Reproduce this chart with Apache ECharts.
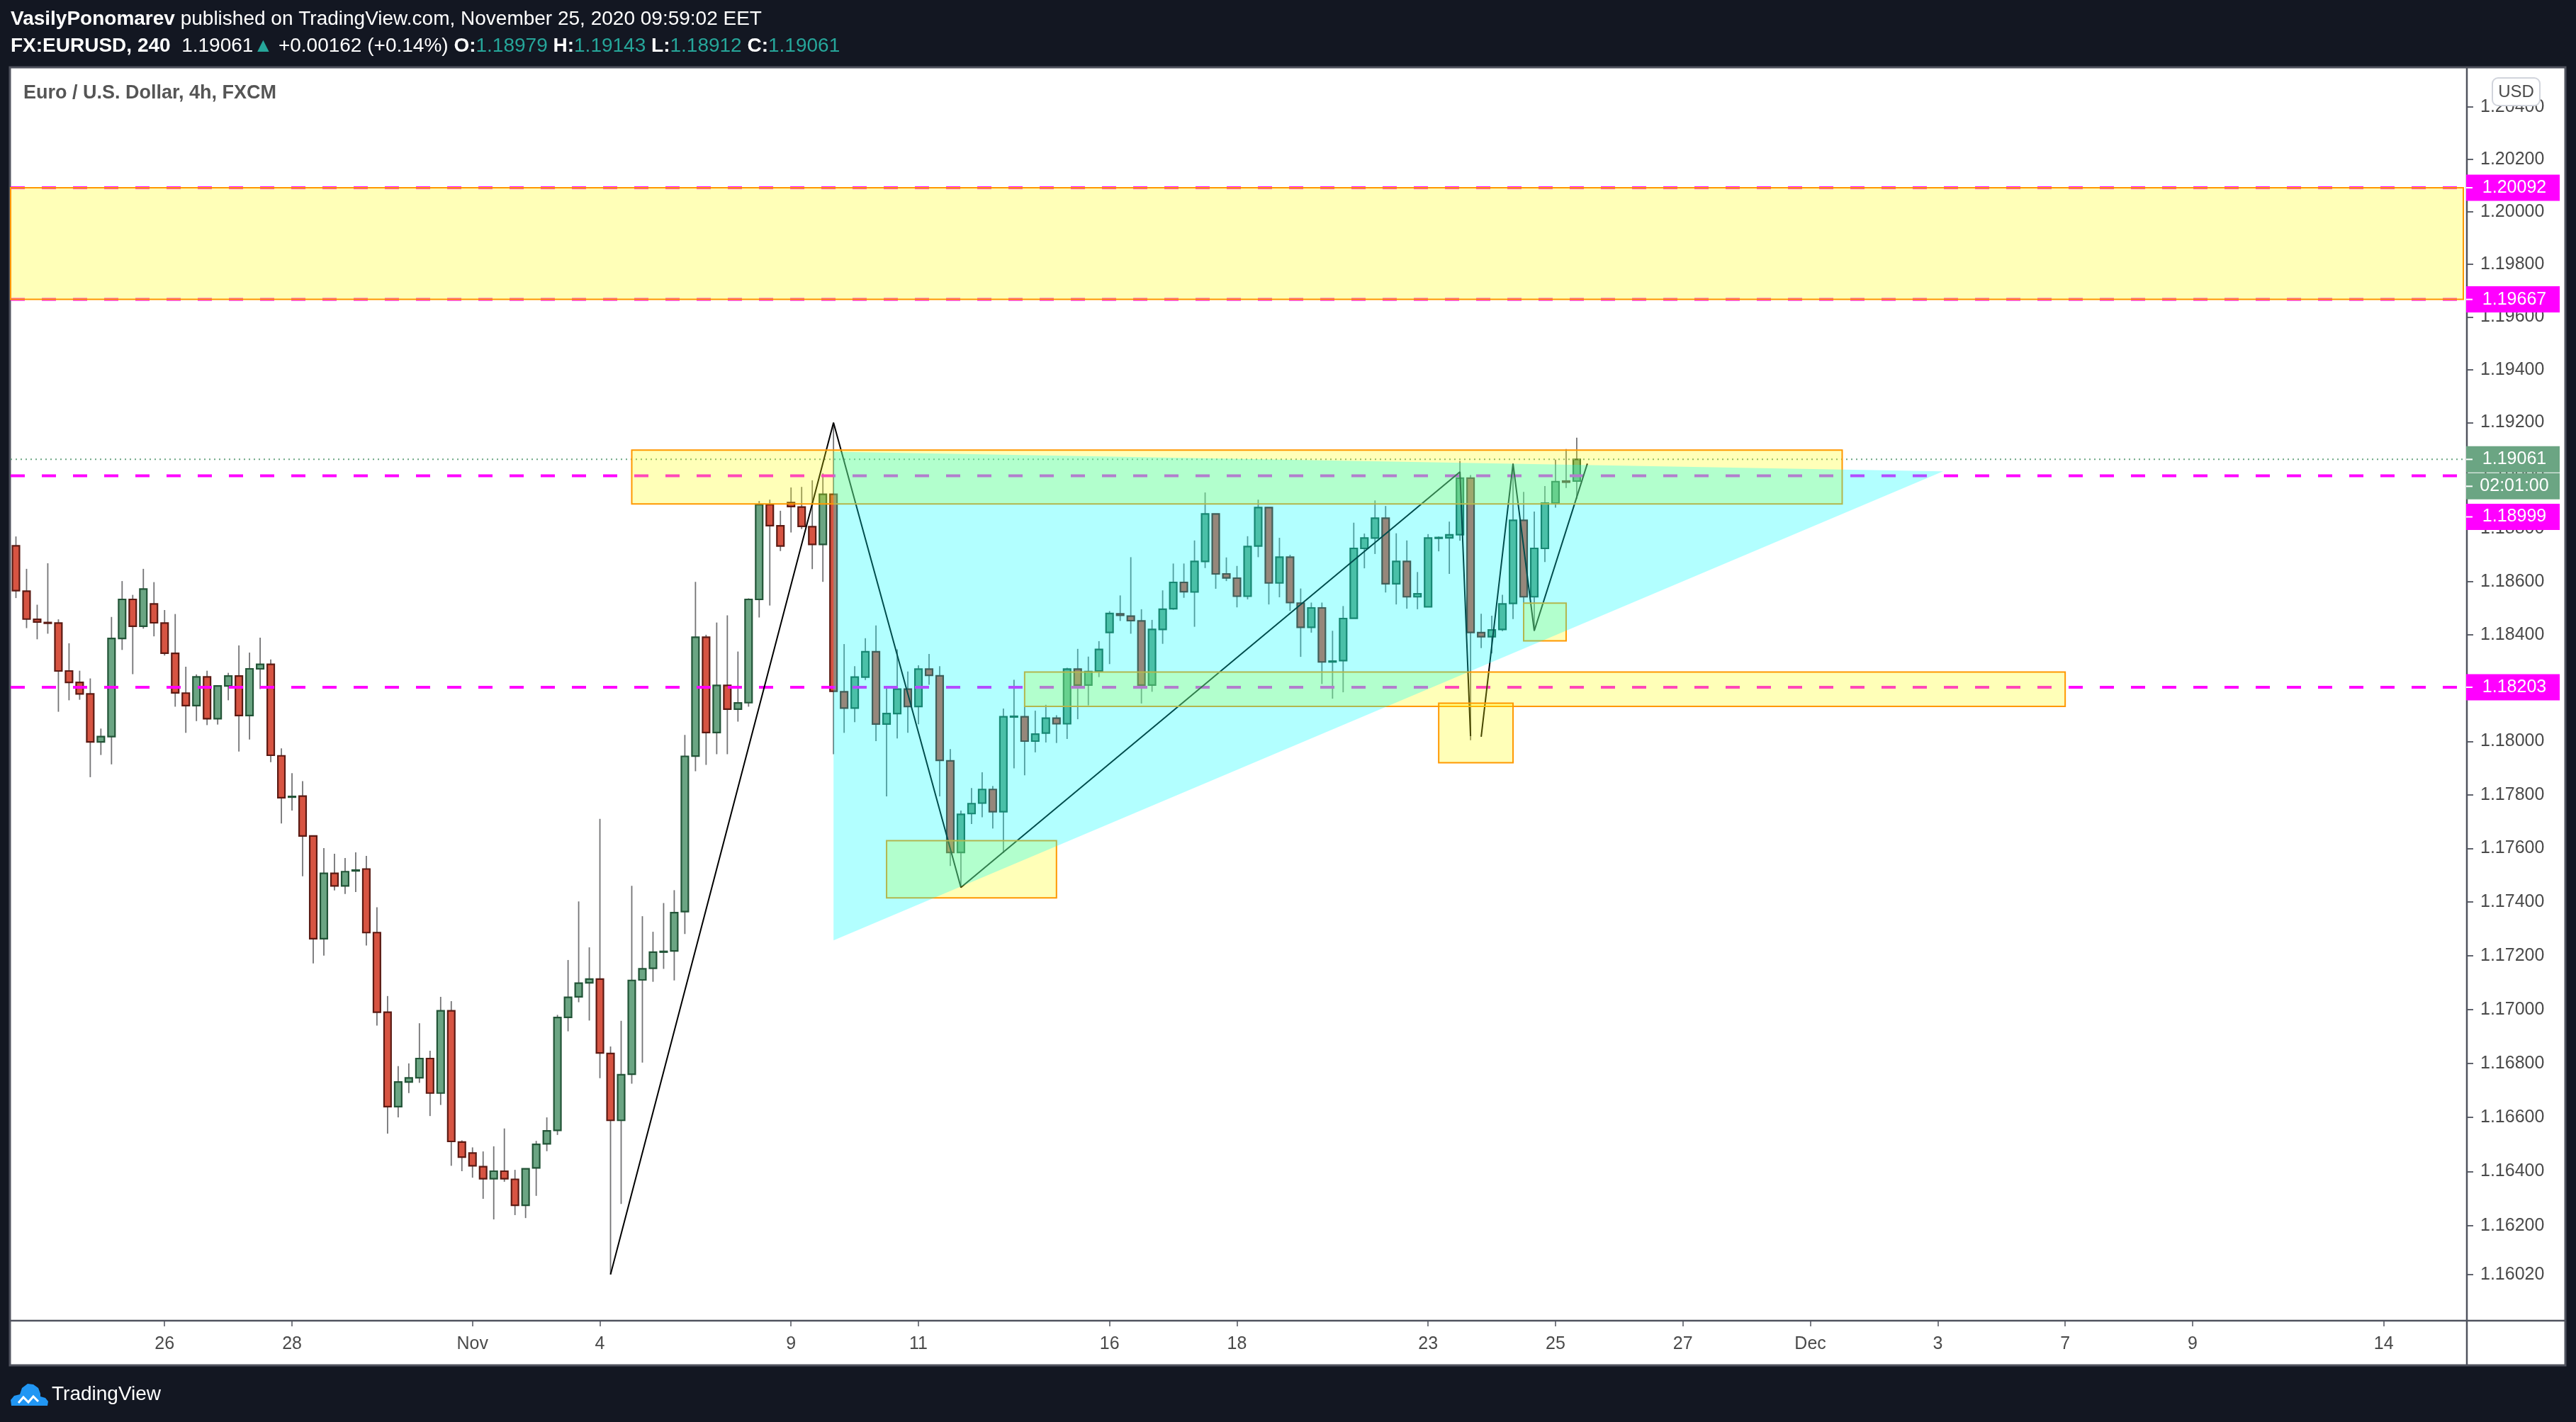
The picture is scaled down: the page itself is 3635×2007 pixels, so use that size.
<!DOCTYPE html>
<html>
<head>
<meta charset="utf-8">
<title>EURUSD 4h</title>
<script src="https://cdn.jsdelivr.net/npm/echarts@6/dist/echarts.min.js"></script>
<style>
  html, body { margin: 0; padding: 0; background: #131722; }
  #chart { width: 3635px; height: 2007px; }
</style>
</head>
<body>
<div id="chart"></div>
<script>
// time axis: 4h bar slots (last ones are empty future space)
const slotCount = 231;
const tickIndex = [14, 26, 43, 55, 73, 85, 103, 115, 133, 145, 157, 169, 181, 193, 205, 223];
const tickText = ['26', '28', 'Nov', '4', '9', '11', '16', '18', '23', '25', '27', 'Dec', '3', '7', '9', '14'];

// candles, one value per bar
const opens = [
  1.18735, 1.18564, 1.18458, 1.18446, 1.18444, 1.18264, 1.18221, 1.18178, 1.17998, 1.18018,
  1.18386, 1.18533, 1.18432, 1.18516, 1.18444, 1.18330, 1.18181, 1.18134, 1.18242, 1.18085,
  1.18208, 1.18245, 1.18097, 1.18272, 1.18289, 1.17946, 1.17792, 1.17795, 1.17646, 1.17263,
  1.17507, 1.17460, 1.17516, 1.17523, 1.17286, 1.16990, 1.16640, 1.16731, 1.16747, 1.16818,
  1.16690, 1.16995, 1.16509, 1.16468, 1.16418, 1.16373, 1.16401, 1.16371, 1.16275, 1.16413,
  1.16502, 1.16552, 1.16971, 1.17047, 1.17099, 1.17113, 1.16837, 1.16589, 1.16760, 1.17110,
  1.17153, 1.17214, 1.17218, 1.17364, 1.17945, 1.18391, 1.18033, 1.18210, 1.18121, 1.18145,
  1.18533, 1.18890, 1.18810, 1.18898, 1.18881, 1.18807, 1.18740, 1.18929, 1.18186, 1.18125,
  1.18241, 1.18336, 1.18065, 1.18104, 1.18196, 1.18131, 1.18271, 1.18246, 1.17927, 1.17585,
  1.17730, 1.17769, 1.17820, 1.17737, 1.18092, 1.18092, 1.18001, 1.18031, 1.18087, 1.18066,
  1.18271, 1.18211, 1.18264, 1.18409, 1.18479, 1.18470, 1.18452, 1.18211, 1.18420, 1.18498,
  1.18597, 1.18561, 1.18676, 1.18855, 1.18629, 1.18613, 1.18545, 1.18734, 1.18879, 1.18595,
  1.18692, 1.18519, 1.18428, 1.18501, 1.18298, 1.18303, 1.18462, 1.18725, 1.18764, 1.18839,
  1.18592, 1.18676, 1.18543, 1.18505, 1.18764, 1.18765, 1.18777, 1.18990, 1.18408, 1.18393,
  1.18420, 1.18518, 1.18831, 1.18543, 1.18725, 1.18896, 1.18979, 1.18979
];
const highs = [
  1.18770, 1.18648, 1.18513, 1.18669, 1.18458, 1.18368, 1.18265, 1.18236, 1.18048, 1.18467,
  1.18602, 1.18550, 1.18648, 1.18598, 1.18493, 1.18478, 1.18280, 1.18251, 1.18265, 1.18211,
  1.18257, 1.18360, 1.18333, 1.18389, 1.18307, 1.17974, 1.17881, 1.17851, 1.17646, 1.17601,
  1.17580, 1.17564, 1.17585, 1.17572, 1.17380, 1.17050, 1.16790, 1.16800, 1.16949, 1.16847,
  1.17047, 1.17031, 1.16515, 1.16489, 1.16474, 1.16493, 1.16559, 1.16406, 1.16410, 1.16513,
  1.16600, 1.16980, 1.17184, 1.17402, 1.17231, 1.17710, 1.16863, 1.16958, 1.17460, 1.17347,
  1.17289, 1.17396, 1.17444, 1.18024, 1.18599, 1.18400, 1.18446, 1.18473, 1.18337, 1.18537,
  1.18904, 1.18909, 1.18867, 1.18955, 1.18957, 1.18982, 1.19008, 1.19200, 1.18365, 1.18282,
  1.18387, 1.18435, 1.18203, 1.18345, 1.18262, 1.18285, 1.18328, 1.18282, 1.17971, 1.17741,
  1.17825, 1.17884, 1.17833, 1.18123, 1.18231, 1.18131, 1.18115, 1.18137, 1.18098, 1.18276,
  1.18347, 1.18318, 1.18376, 1.18489, 1.18548, 1.18692, 1.18496, 1.18456, 1.18567, 1.18668,
  1.18668, 1.18755, 1.18936, 1.18855, 1.18691, 1.18659, 1.18771, 1.18909, 1.18879, 1.18765,
  1.18701, 1.18574, 1.18521, 1.18521, 1.18415, 1.18508, 1.18822, 1.18781, 1.18906, 1.18885,
  1.18782, 1.18755, 1.18636, 1.18779, 1.18770, 1.18826, 1.19055, 1.19002, 1.18479, 1.18472,
  1.18550, 1.19040, 1.18938, 1.18864, 1.18960, 1.19060, 1.19100, 1.19143
];
const lows = [
  1.18538, 1.18425, 1.18383, 1.18404, 1.18111, 1.18154, 1.18156, 1.17866, 1.17949, 1.17914,
  1.18343, 1.18252, 1.18423, 1.18394, 1.18322, 1.18130, 1.18032, 1.18076, 1.18061, 1.18063,
  1.18154, 1.17962, 1.18007, 1.18196, 1.17922, 1.17693, 1.17741, 1.17496, 1.17171, 1.17200,
  1.17443, 1.17430, 1.17437, 1.17238, 1.16940, 1.16540, 1.16600, 1.16690, 1.16728, 1.16605,
  1.16646, 1.16421, 1.16401, 1.16377, 1.16299, 1.16223, 1.16362, 1.16239, 1.16228, 1.16310,
  1.16475, 1.16535, 1.16919, 1.17027, 1.16959, 1.16745, 1.16020, 1.16280, 1.16725, 1.16803,
  1.17103, 1.17151, 1.17108, 1.17281, 1.17888, 1.17912, 1.17952, 1.17952, 1.18074, 1.18130,
  1.18465, 1.18510, 1.18715, 1.18785, 1.18798, 1.18647, 1.18599, 1.17952, 1.18032, 1.18072,
  1.18230, 1.18001, 1.17794, 1.18011, 1.18032, 1.18064, 1.18212, 1.17794, 1.17534, 1.17454,
  1.17691, 1.17716, 1.17674, 1.17583, 1.17899, 1.17873, 1.17959, 1.17996, 1.17994, 1.18009,
  1.18083, 1.18135, 1.18241, 1.18290, 1.18452, 1.18404, 1.18142, 1.18186, 1.18366, 1.18494,
  1.18539, 1.18430, 1.18651, 1.18573, 1.18602, 1.18503, 1.18533, 1.18692, 1.18514, 1.18541,
  1.18490, 1.18317, 1.18408, 1.18215, 1.18160, 1.18184, 1.18462, 1.18650, 1.18704, 1.18559,
  1.18514, 1.18498, 1.18496, 1.18505, 1.18714, 1.18629, 1.18754, 1.18004, 1.18350, 1.18330,
  1.18414, 1.18459, 1.18516, 1.18415, 1.18674, 1.18879, 1.18953, 1.18912
];
const closes = [
  1.18566, 1.18459, 1.18448, 1.18444, 1.18264, 1.18221, 1.18178, 1.17998, 1.18018, 1.18386,
  1.18533, 1.18432, 1.18572, 1.18445, 1.18331, 1.18182, 1.18134, 1.18242, 1.18085, 1.18208,
  1.18245, 1.18097, 1.18272, 1.18289, 1.17948, 1.17789, 1.17794, 1.17646, 1.17263, 1.17507,
  1.17460, 1.17513, 1.17519, 1.17286, 1.16990, 1.16640, 1.16731, 1.16746, 1.16818, 1.16690,
  1.16995, 1.16511, 1.16453, 1.16421, 1.16373, 1.16401, 1.16373, 1.16275, 1.16410, 1.16500,
  1.16550, 1.16970, 1.17045, 1.17098, 1.17113, 1.16839, 1.16589, 1.16758, 1.17108, 1.17151,
  1.17213, 1.17216, 1.17360, 1.17944, 1.18391, 1.18033, 1.18210, 1.18121, 1.18144, 1.18533,
  1.18890, 1.18811, 1.18734, 1.18883, 1.18808, 1.18740, 1.18929, 1.18188, 1.18125, 1.18241,
  1.18336, 1.18065, 1.18104, 1.18196, 1.18131, 1.18271, 1.18248, 1.17929, 1.17585, 1.17727,
  1.17767, 1.17820, 1.17737, 1.18092, 1.18094, 1.18001, 1.18027, 1.18087, 1.18066, 1.18271,
  1.18211, 1.18262, 1.18345, 1.18480, 1.18473, 1.18453, 1.18211, 1.18420, 1.18496, 1.18597,
  1.18562, 1.18676, 1.18855, 1.18629, 1.18614, 1.18545, 1.18732, 1.18879, 1.18595, 1.18692,
  1.18521, 1.18428, 1.18501, 1.18298, 1.18301, 1.18461, 1.18725, 1.18764, 1.18839, 1.18592,
  1.18676, 1.18543, 1.18554, 1.18764, 1.18766, 1.18776, 1.18990, 1.18409, 1.18393, 1.18418,
  1.18516, 1.18831, 1.18543, 1.18725, 1.18896, 1.18977, 1.18975, 1.19061
];

// price scale labels
const priceTicks = [1.1602, 1.162, 1.164, 1.166, 1.168, 1.17, 1.172, 1.174, 1.176, 1.178, 1.18,
  1.182, 1.184, 1.186, 1.188, 1.19, 1.192, 1.194, 1.196, 1.198, 1.2, 1.202, 1.204];

// horizontal levels and the live price
const levels = [1.20092, 1.19667, 1.18999, 1.18203];
const lastPrice = 1.19061;
const countdown = '02:01:00';

// drawings in bar index / price
const zoneBand = [1.20092, 1.19667];
const boxes = [
  [58, 172, 1.19096, 1.18893],
  [95, 193, 1.18260, 1.18131],
  [82, 98, 1.17629, 1.17415],
  [134, 141, 1.18143, 1.17920],
  [142, 146, 1.18519, 1.18377]
];
const triangle = [[77, 1.19090], [181.5, 1.19016], [77, 1.17257]];
const zigzagA = [[56, 1.16020], [77, 1.19200], [89, 1.17454], [136, 1.19014], [137, 1.18020]];
const zigzagB = [[138, 1.18017], [141, 1.19045], [143, 1.18415], [148, 1.19045]];

// badges on the price scale
const badgePrices = [1.20092, 1.19667, 1.18999, 1.18203, 1.19061, 1.19061];
const badgeText = ['1.20092', '1.19667', '1.18999', '1.18203', '1.19061', countdown];

const badgeShift = [0, 0, 58, 0, 0, 38];
const badgeColor = ['#ff00ff', '#ff00ff', '#ff00ff', '#ff00ff', '#6ba583', '#6ba583'];
const FONT = 'Liberation Sans';

const categories = [];
for (let i = 0; i < slotCount; i++) categories.push('');
tickIndex.forEach((idx, k) => { categories[idx] = tickText[k]; });

const candleData = opens.map((o, i) => [i, o, closes[i], lows[i], highs[i]]);

function coordAt(api, x, p) {
  const x0 = Math.floor(x), t = x - x0;
  const a = api.coord([x0, p]);
  if (t === 0) return a;
  const b = api.coord([x0 + 1, p]);
  return [a[0] + (b[0] - a[0]) * t, a[1]];
}

function renderCandle(params, api) {
  const i = api.value(0);
  const o = api.value(1), c = api.value(2), l = api.value(3), h = api.value(4);
  const pO = api.coord([i, o]), pC = api.coord([i, c]);
  const pL = api.coord([i, l]), pH = api.coord([i, h]);
  const w = api.size([1, 0])[0] * 0.66;
  const up = c >= o;
  const top = Math.min(pO[1], pC[1]);
  const hgt = Math.max(Math.abs(pO[1] - pC[1]), 1);
  return {
    type: 'group',
    children: [
      { type: 'line', shape: { x1: pO[0], y1: pH[1], x2: pO[0], y2: pL[1] },
        style: { stroke: '#737375', lineWidth: 1.8 } },
      { type: 'rect', shape: { x: pO[0] - w / 2, y: top, width: w, height: hgt },
        style: { fill: up ? '#6ba583' : '#d75442', stroke: up ? '#225437' : '#5b1a13', lineWidth: 2.2 } }
    ]
  };
}

const chart = echarts.init(document.getElementById('chart'));

const option = {
  animation: false,
  backgroundColor: '#131722',
  textStyle: { fontFamily: FONT },
  grid: { left: 15, right: 159, top: 95, bottom: 143, outerBoundsMode: 'none', containLabel: false },
  xAxis: {
    type: 'category',
    data: categories,
    boundaryGap: true,
    axisLine: { show: false },
    axisTick: {
      show: true, alignWithLabel: true, length: 8,
      interval: (idx, val) => val !== '',
      lineStyle: { color: '#50535e', width: 1.5 }
    },
    axisLabel: {
      interval: (idx, val) => val !== '',
      color: '#4a4a4a', fontSize: 25, fontFamily: FONT, margin: 21
    },
    splitLine: { show: false }
  },
  yAxis: {
    type: 'log',
    logBase: 10,
    position: 'right',
    offset: 5,
    min: 1.1585,
    max: 1.20552,
    axisLine: { show: false },
    axisTick: { show: true, length: 9, customValues: priceTicks, lineStyle: { color: '#50535e', width: 1.8 } },
    axisLabel: {
      customValues: priceTicks,
      formatter: v => v.toFixed(5),
      color: '#4a4a4a', fontSize: 25, fontFamily: FONT, margin: 19
    },
    splitLine: { show: false }
  },
  series: [
    {
      name: 'EURUSD',
      type: 'custom',
      z: 2,
      renderItem: renderCandle,
      encode: { x: 0, y: [1, 2, 3, 4] },
      data: candleData
    },
    {
      name: 'lastLine',
      type: 'custom',
      z: 3,
      renderItem: (params, api) => {
        const y = api.coord([0, api.value(1)])[1];
        const cs = params.coordSys;
        return { type: 'line', shape: { x1: cs.x, y1: y, x2: cs.x + cs.width, y2: y },
          style: { stroke: '#6ba583', lineWidth: 2, lineDash: [2, 5] } };
      },
      encode: { x: 0, y: 1 },
      data: [[0, lastPrice]]
    },
    {
      name: 'levels',
      type: 'custom',
      z: 3,
      renderItem: (params, api) => {
        const y = api.coord([0, api.value(1)])[1];
        const cs = params.coordSys;
        return { type: 'line', shape: { x1: cs.x, y1: y, x2: cs.x + cs.width, y2: y },
          style: { stroke: '#ff00ff', lineWidth: 4, lineDash: [20, 24] } };
      },
      encode: { x: 0, y: 1 },
      data: levels.map(p => [0, p])
    },
    {
      name: 'zigzagA', type: 'line', z: 4, symbol: 'none', silent: true,
      lineStyle: { color: '#000000', width: 2 }, data: zigzagA
    },
    {
      name: 'zigzagB', type: 'line', z: 4, symbol: 'none', silent: true,
      lineStyle: { color: '#000000', width: 2 }, data: zigzagB
    },
    {
      name: 'band',
      type: 'custom',
      z: 5,
      renderItem: (params, api) => {
        const y1 = api.coord([0, api.value(1)])[1];
        const y2 = api.coord([0, api.value(2)])[1];
        const cs = params.coordSys;
        return { type: 'rect', shape: { x: cs.x, y: y1, width: cs.width, height: y2 - y1 },
          style: { fill: 'rgba(255,255,0,0.28)', stroke: '#ff9800', lineWidth: 2 } };
      },
      encode: { x: 0, y: [1, 2] },
      data: [[0, zoneBand[0], zoneBand[1]]]
    },
    {
      name: 'boxes',
      type: 'custom',
      z: 5,
      renderItem: (params, api) => {
        const a = api.coord([api.value(0), api.value(2)]);
        const b = api.coord([api.value(1), api.value(3)]);
        return { type: 'rect', shape: { x: a[0], y: a[1], width: b[0] - a[0], height: b[1] - a[1] },
          style: { fill: 'rgba(255,255,0,0.28)', stroke: '#ff9800', lineWidth: 2 } };
      },
      encode: { x: [0, 1], y: [2, 3] },
      data: boxes
    },
    {
      name: 'triangle',
      type: 'custom',
      z: 6,
      renderItem: (params, api) => ({
        type: 'polygon',
        shape: { points: triangle.map(([x, p]) => coordAt(api, x, p)) },
        style: { fill: 'rgba(0,255,255,0.3)' }
      }),
      encode: { x: 0, y: 1 },
      data: [triangle[0]]
    },
    {
      name: 'badges',
      type: 'custom',
      z: 10,
      clip: false,
      renderItem: (params, api) => {
        const k = params.dataIndex;
        const cs = params.coordSys;
        const y = api.coord([0, api.value(1)])[1] + badgeShift[k];
        const x = cs.x + cs.width + 4;
        return {
          type: 'group',
          children: [
            { type: 'rect', shape: { x: x, y: y - 18.5, width: 132, height: 37 }, style: { fill: badgeColor[k] } },
            { type: 'line', shape: { x1: x, y1: y, x2: x + 9, y2: y }, style: { stroke: '#ffffff', lineWidth: 2 } },
            { type: 'text', style: { text: badgeText[k], x: x + 68, y: y, align: 'center', verticalAlign: 'middle',
              fill: '#ffffff', fontSize: 25, fontFamily: FONT } }
          ]
        };
      },
      encode: { x: 0, y: 1 },
      data: badgePrices.map(p => [0, p])
    }
  ],
  graphic: [
    { type: 'rect', x: 14, y: 95, z: -10, shape: { x: 0, y: 0, width: 3606, height: 1832 },
      style: { fill: '#ffffff', stroke: '#50535e', lineWidth: 3 } },
    { type: 'line', z: 1, shape: { x1: 14, y1: 1864, x2: 3620, y2: 1864 }, style: { stroke: '#50535e', lineWidth: 2.5 } },
    { type: 'line', z: 1, shape: { x1: 3481, y1: 95, x2: 3481, y2: 1927 }, style: { stroke: '#50535e', lineWidth: 2.5 } },
    { type: 'text', x: 15, y: 27, style: {
        text: '{b|VasilyPonomarev} published on TradingView.com, November 25, 2020 09:59:02 EET',
        fill: '#ffffff', fontSize: 28, fontFamily: FONT, verticalAlign: 'middle',
        rich: { b: { fill: '#ffffff', fontSize: 28, fontFamily: FONT, fontWeight: 'bold' } } } },
    { type: 'text', x: 15, y: 65, style: {
        text: '{b|FX:EURUSD, 240}  1.19061{t|▲} +0.00162 (+0.14%) {b|O:}{t|1.18979} {b|H:}{t|1.19143} {b|L:}{t|1.18912} {b|C:}{t|1.19061}',
        fill: '#ffffff', fontSize: 28, fontFamily: FONT, verticalAlign: 'middle',
        rich: {
          b: { fill: '#ffffff', fontSize: 28, fontFamily: FONT, fontWeight: 'bold' },
          t: { fill: '#26a69a', fontSize: 28, fontFamily: FONT }
        } } },
    { type: 'text', x: 33, y: 132, z: 20, style: {
        text: 'Euro / U.S. Dollar, 4h, FXCM', fill: '#555555', fontSize: 27, fontFamily: FONT,
        fontWeight: 'bold', verticalAlign: 'middle' } },
    { type: 'rect', x: 3517, y: 110, z: 20, shape: { x: 0, y: 0, width: 67, height: 39, r: 8 },
      style: { fill: '#ffffff', stroke: '#d1d4dc', lineWidth: 2 } },
    { type: 'text', x: 3550.5, y: 130, z: 21, style: {
        text: 'USD', fill: '#4a4a4a', fontSize: 24, fontFamily: FONT, align: 'center', verticalAlign: 'middle' } },
    { type: 'polygon', x: 14, y: 1950, z: 1, shape: {
        points: [[2, 34], [1, 26], [6, 20], [14, 18], [17, 9], [25, 3], [33, 4], [40, 9], [43, 17], [43, 21],
                 [50, 23], [54, 28], [53, 34]] },
      style: { fill: '#2196f3' } },
    { type: 'polyline', x: 14, y: 1950, z: 2, shape: { points: [[12, 30], [19, 22], [26, 29], [33, 21], [40, 28]] },
      style: { stroke: '#ffffff', lineWidth: 3, fill: null } },
    { type: 'text', x: 73, y: 1968, z: 1, style: {
        text: 'TradingView', fill: '#ffffff', fontSize: 28, fontFamily: FONT, verticalAlign: 'middle' } }
  ]
};

chart.setOption(option);
</script>
</body>
</html>
